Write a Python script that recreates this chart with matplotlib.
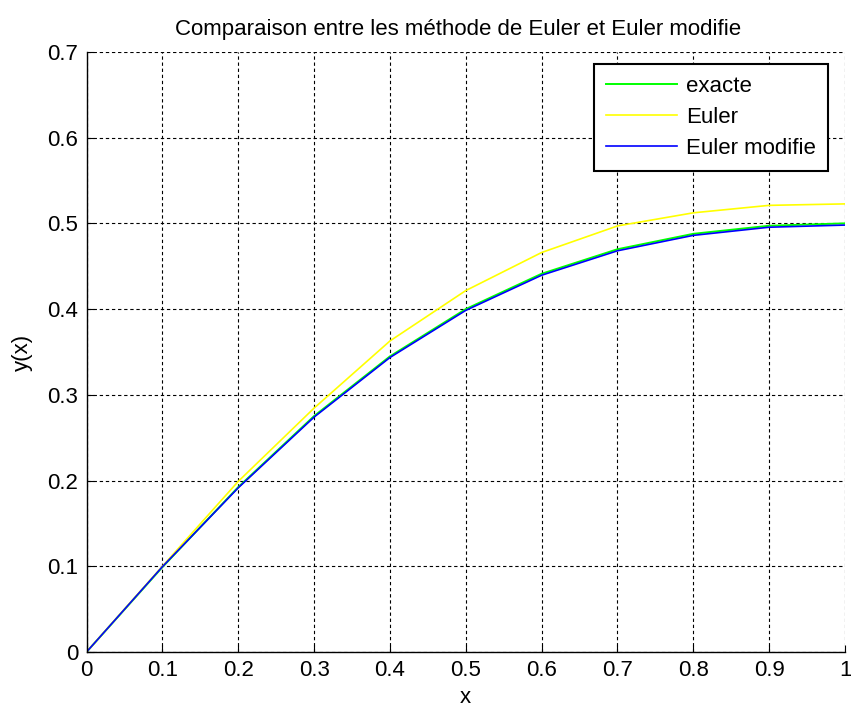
import numpy as np
import matplotlib
matplotlib.use("Agg")
import matplotlib.pyplot as plt

# values (step 0.1)
x = [0.0, 0.1, 0.2, 0.3, 0.4, 0.5, 0.6, 0.7, 0.8, 0.9, 1.0]
y_exacte = [0.0, 0.099, 0.1923, 0.2752, 0.3448, 0.4, 0.4412, 0.4698, 0.4878, 0.4972, 0.5]
y_euler = [0.0, 0.1, 0.199, 0.2845, 0.3628, 0.4216, 0.466, 0.497, 0.5123, 0.521, 0.5227]
y_euler_mod = [0.0, 0.0995, 0.1915, 0.274, 0.3435, 0.3985, 0.4395, 0.468, 0.486, 0.4955, 0.498]

xticks = np.arange(0, 1.01, 0.1)
yticks = np.arange(0, 0.71, 0.1)

plt.rcParams['font.family'] = ['Liberation Sans', 'DejaVu Sans']
fs = 16

fig = plt.figure(figsize=(8.51, 7.11), dpi=100)
ax = fig.add_axes([0.1017, 0.083, 0.8913, 0.844])

ax.plot(x, y_exacte, color='#00ff00', lw=1.4, label='exacte')
ax.plot(x, y_euler, color='#ffff00', lw=1.2, label='Euler')
ax.plot(x, y_euler_mod, color='#0000ff', lw=1.2, label='Euler modifie')

ax.set_xlim(0, 1)
ax.set_ylim(0, 0.7)
ax.set_xticks(xticks)
ax.set_yticks(yticks)
ax.set_xticklabels(['0', '0.1', '0.2', '0.3', '0.4', '0.5', '0.6', '0.7', '0.8', '0.9', '1'])
ax.set_yticklabels(['0', '0.1', '0.2', '0.3', '0.4', '0.5', '0.6', '0.7'])
ax.tick_params(direction='in', length=5, width=0.8, labelsize=fs, pad=6)
ax.grid(True, color='black', linestyle=(0, (3, 2.5)), linewidth=0.8)
for s in ['top', 'right']:
    ax.spines[s].set_visible(False)
for s in ['left', 'bottom']:
    ax.spines[s].set_linewidth(1.0)

ax.set_title('Comparaison entre les méthode de Euler et Euler modifie', fontsize=fs, pad=12, x=0.49)
ax.set_xlabel('x', fontsize=fs, labelpad=4)
ax.set_ylabel('y(x)', fontsize=fs, labelpad=10)

leg = ax.legend(loc='upper right', bbox_to_anchor=(0.9776, 0.98), borderaxespad=0,
                fontsize=fs, fancybox=False, framealpha=1, edgecolor='black',
                handlelength=3.2, labelspacing=0.45, handletextpad=0.4, borderpad=0.55)
leg.get_frame().set_linewidth(1.5)

fig.savefig('out.png', dpi=100)
